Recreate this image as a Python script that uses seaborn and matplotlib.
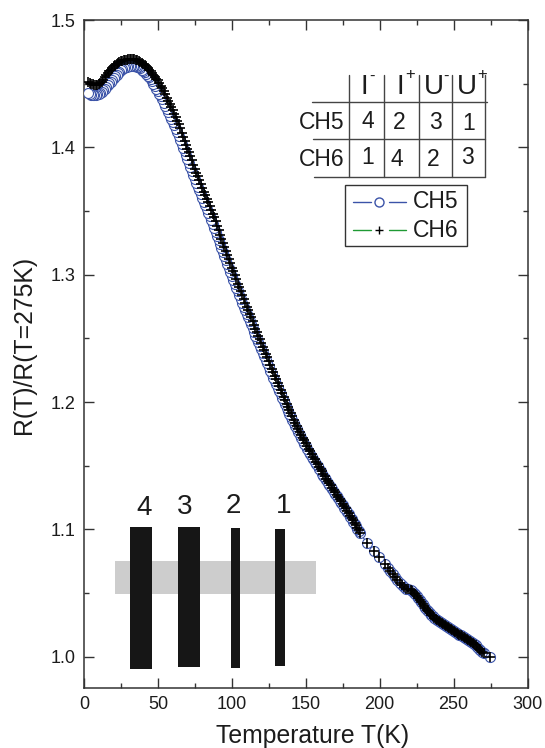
# plot.py
import matplotlib
matplotlib.use("Agg")
import matplotlib.pyplot as plt
from matplotlib.lines import Line2D
from matplotlib.patches import Rectangle
from matplotlib.ticker import MultipleLocator, FormatStrFormatter
import pandas as pd
import seaborn as sns

# Datos
temp = [3, 4, 5, 6, 7, 8, 9, 10, 11, 12, 13, 14, 15, 16, 17, 18, 19, 20, 21, 22,
        23, 24, 25, 26, 27, 28, 29, 30, 31, 32, 33, 34, 35, 36, 37, 38, 39, 40, 41, 42,
        43, 44, 45, 46, 47, 48, 49, 50, 51, 52, 53, 54, 55, 56, 57, 58, 59, 60, 61, 62,
        63, 64, 65, 66, 67, 68, 69, 70, 71, 72, 73, 74, 75, 76, 77, 78, 79, 80, 81, 82,
        83, 84, 85, 86, 87, 88, 89, 90, 91, 92, 93, 94, 95, 96, 97, 98, 99, 100, 101, 102,
        103, 104, 105, 106, 107, 108, 109, 110, 111, 112, 113, 114, 115, 116, 117, 118, 119, 120, 121, 122,
        123, 124, 125, 126, 127, 128,
        129, 130, 131, 132, 133, 134, 135, 136, 137, 138, 139, 140, 141, 142, 143, 144, 145, 146, 147, 148,
        149, 150, 151, 152, 153, 154, 155, 156, 157, 158, 159, 160, 161, 162, 163, 164, 165, 166, 167, 168,
        169, 170, 171, 172, 173, 174, 175, 176, 177, 178, 179, 180, 181, 182, 183, 184, 185, 186, 187,
        191.4, 195.9, 199.7, 203.4, 205.5, 207.2, 209, 210.6, 212, 213.5, 215, 216.5, 218, 219.5,
        221, 222, 223, 224, 225, 226, 227, 228, 229, 230, 231, 232, 233, 234, 235, 236, 237, 238, 239, 240,
        241, 242, 243, 244, 245, 246, 247, 248, 249, 250, 251, 252, 253, 254, 255, 256, 257, 258, 259, 260,
        261, 262, 263, 264, 265, 266, 267, 268, 269, 270.5, 274.5]

ch5 = [1.4425, 1.4418, 1.4413, 1.4410, 1.4410, 1.4412, 1.4415, 1.4420, 1.4427, 1.4435, 1.4447, 1.4460, 1.4474, 1.4488, 1.4502, 1.4515, 1.4530, 1.4545, 1.4558, 1.4570,
       1.4583, 1.4595, 1.4605, 1.4615, 1.4622, 1.4628, 1.4633, 1.4637, 1.4639, 1.4641, 1.4641, 1.4640, 1.4637, 1.4633, 1.4627, 1.4620, 1.4610, 1.4600, 1.4589, 1.4578,
       1.4564, 1.4550, 1.4534, 1.4518, 1.4500, 1.4482, 1.4462, 1.4442, 1.4421, 1.4400, 1.4376, 1.4352, 1.4327, 1.4302, 1.4276, 1.4250, 1.4224, 1.4198, 1.4172, 1.4145,
       1.4117, 1.4088, 1.4058, 1.4028, 1.3998, 1.3968, 1.3938, 1.3908, 1.3878, 1.3848, 1.3817, 1.3785, 1.3753, 1.3722, 1.3692, 1.3662, 1.3631, 1.3600, 1.3573, 1.3545,
       1.3517, 1.3488, 1.3459, 1.3430, 1.3400, 1.3370, 1.3338, 1.3305, 1.3273, 1.3240, 1.3207, 1.3175, 1.3143, 1.3112, 1.3081, 1.3050, 1.3019, 1.2988, 1.2958, 1.2928,
       1.2898, 1.2868, 1.2838, 1.2808, 1.2779, 1.2750, 1.2721, 1.2692, 1.2665, 1.2638, 1.2609, 1.2580, 1.2551, 1.2522, 1.2495, 1.2468, 1.2442, 1.2415, 1.2387, 1.2358,
       1.2331, 1.2303, 1.2275, 1.2246, 1.2219, 1.2192,
       1.2166, 1.2140, 1.2113, 1.2087, 1.2060, 1.2034, 1.2008, 1.1981, 1.1955, 1.1930, 1.1905, 1.1881, 1.1857, 1.1833, 1.1809, 1.1786, 1.1763, 1.1740, 1.1718, 1.1696,
       1.1674, 1.1653, 1.1632, 1.1611, 1.1591, 1.1571, 1.1551, 1.1532, 1.1513, 1.1494, 1.1475, 1.1456, 1.1438, 1.1420, 1.1402, 1.1384, 1.1366, 1.1348, 1.1331, 1.1313,
       1.1296, 1.1278, 1.1260, 1.1243, 1.1225, 1.1207, 1.1189, 1.1171, 1.1153, 1.1135, 1.1117, 1.1098, 1.1080, 1.1061, 1.1043, 1.1024, 1.1005, 1.0987, 1.0968,
       1.0890, 1.0830, 1.0780, 1.0730, 1.0700, 1.0675, 1.0650, 1.0625, 1.0605, 1.0580, 1.0560, 1.0545, 1.0535, 1.0530,
       1.0525, 1.0515, 1.0503, 1.0490, 1.0475, 1.0460, 1.0445, 1.0430, 1.0415, 1.0400, 1.0385, 1.0370, 1.0357, 1.0343, 1.0330, 1.0318, 1.0305, 1.0295, 1.0285, 1.0277,
       1.0269, 1.0261, 1.0253, 1.0245, 1.0237, 1.0230, 1.0223, 1.0216, 1.0209, 1.0202, 1.0195, 1.0188, 1.0181, 1.0174, 1.0167, 1.0160, 1.0153, 1.0146, 1.0139, 1.0131,
       1.0123, 1.0115, 1.0107, 1.0098, 1.0088, 1.0076, 1.0064, 1.0052, 1.0035, 1.0026, 1.0000]

ch6 = [1.4510, 1.4505, 1.4500, 1.4495, 1.4492, 1.4490, 1.4491, 1.4495, 1.4504, 1.4515, 1.4532, 1.4550, 1.4568, 1.4585, 1.4598, 1.4610, 1.4623, 1.4635, 1.4646, 1.4655,
       1.4663, 1.4670, 1.4675, 1.4680, 1.4683, 1.4685, 1.4688, 1.4690, 1.4691, 1.4692, 1.4691, 1.4690, 1.4686, 1.4682, 1.4677, 1.4672, 1.4664, 1.4655, 1.4645, 1.4635,
       1.4623, 1.4610, 1.4598, 1.4585, 1.4570, 1.4555, 1.4540, 1.4525, 1.4506, 1.4485, 1.4463, 1.4440, 1.4415, 1.4390, 1.4365, 1.4340, 1.4315, 1.4290, 1.4263, 1.4235,
       1.4208, 1.4180, 1.4148, 1.4115, 1.4083, 1.4050, 1.4020, 1.3990, 1.3960, 1.3930, 1.3898, 1.3865, 1.3833, 1.3800, 1.3772, 1.3745, 1.3713, 1.3680, 1.3653, 1.3625,
       1.3598, 1.3570, 1.3540, 1.3510, 1.3480, 1.3450, 1.3418, 1.3385, 1.3350, 1.3315, 1.3283, 1.3250, 1.3218, 1.3185, 1.3153, 1.3120, 1.3088, 1.3055, 1.3025, 1.2995,
       1.2963, 1.2930, 1.2900, 1.2870, 1.2840, 1.2810, 1.2780, 1.2750, 1.2723, 1.2695, 1.2665, 1.2635, 1.2605, 1.2575, 1.2548, 1.2520, 1.2493, 1.2465, 1.2435, 1.2405,
       1.2378, 1.2350, 1.2320, 1.2290, 1.2263, 1.2235,
       1.2207, 1.2180, 1.2152, 1.2125, 1.2097, 1.2070, 1.2043, 1.2015, 1.1988, 1.1962, 1.1937, 1.1912, 1.1887, 1.1862, 1.1838, 1.1814, 1.1790, 1.1767, 1.1744, 1.1721,
       1.1699, 1.1677, 1.1655, 1.1634, 1.1613, 1.1592, 1.1572, 1.1552, 1.1532, 1.1512, 1.1493, 1.1474, 1.1455, 1.1436, 1.1418, 1.1399, 1.1381, 1.1363, 1.1345, 1.1327,
       1.1309, 1.1291, 1.1273, 1.1255, 1.1237, 1.1219, 1.1201, 1.1183, 1.1164, 1.1146, 1.1127, 1.1108, 1.1089, 1.1070, 1.1051, 1.1032, 1.1013, 1.0994, 1.0975,
       1.0890, 1.0830, 1.0780, 1.0730, 1.0700, 1.0675, 1.0650, 1.0625, 1.0605, 1.0580, 1.0560, 1.0545, 1.0535, 1.0530,
       1.0525, 1.0515, 1.0503, 1.0490, 1.0475, 1.0460, 1.0445, 1.0430, 1.0415, 1.0400, 1.0385, 1.0370, 1.0357, 1.0343, 1.0330, 1.0318, 1.0305, 1.0295, 1.0285, 1.0277,
       1.0269, 1.0261, 1.0253, 1.0245, 1.0237, 1.0230, 1.0223, 1.0216, 1.0209, 1.0202, 1.0195, 1.0188, 1.0181, 1.0174, 1.0167, 1.0160, 1.0153, 1.0146, 1.0139, 1.0131,
       1.0123, 1.0115, 1.0107, 1.0098, 1.0088, 1.0076, 1.0064, 1.0052, 1.0035, 1.0026, 1.0000]

# Esquema de contactos (T, R)
contact_labels = ["4", "3", "2", "1"]
contact_left = [31.3, 63.9, 99.3, 129.0]
contact_right = [45.8, 78.6, 105.8, 136.2]
contact_bottom = [0.9904, 0.9915, 0.9912, 0.9925]
contact_top = [1.1020, 1.1015, 1.1010, 1.0999]

# Tabla de canales
table_header = ["I", "I", "U", "U"]
table_signs = ["-", "+", "-", "+"]
table_rows = ["CH5", "CH6"]
table_values = [["4", "2", "3", "1"], ["1", "4", "2", "3"]]

BLUE = "#3b53a8"
GREEN = "#1f9a34"
INK = "#1c1c1c"
W, H = 545, 748


def fx(x):
    return x / W


def fy(y):
    return 1 - y / H


def linea(fig, x0, y0, x1, y1, color="#444444", lw=1.0):
    fig.add_artist(Line2D([fx(x0), fx(x1)], [fy(y0), fy(y1)], color=color, lw=lw))


def texto(fig, x, y, s, size=16.5):
    fig.text(fx(x), fy(y), s, fontsize=size, color=INK, ha="center", va="center")


sns.set_style("ticks")
plt.rcParams["font.family"] = ["Liberation Sans", "DejaVu Sans"]

fig = plt.figure(figsize=(W / 100, H / 100), dpi=100)
ax = fig.add_axes([fx(84), fy(688), fx(527.5 - 84), (688 - 20) / H])

df = pd.DataFrame({"T": temp[::-1], "CH5": ch5[::-1], "CH6": ch6[::-1]})

sns.lineplot(data=df, x="T", y="CH5", sort=False, errorbar=None, ax=ax, color=BLUE, lw=0.8,
             marker="o", markersize=7.2, markerfacecolor="white", markeredgecolor=BLUE,
             markeredgewidth=0.8, zorder=3)
sns.scatterplot(data=df, x="T", y="CH6", ax=ax, marker="+", s=56, color="black", linewidth=1.2, zorder=4)

# Esquema
ax.add_patch(Rectangle((21, 1.049), 136, 0.026, facecolor="#cdcdcd", edgecolor="none", zorder=1))
for lab, l, r, b, t in zip(contact_labels, contact_left, contact_right, contact_bottom, contact_top):
    ax.bar((l + r) / 2, t - b, width=r - l, bottom=b, color="#161616", linewidth=0, zorder=2)
for lab, x, y in zip(contact_labels, [144, 184.3, 233.3, 284], [508, 507.3, 506, 506]):
    texto(fig, x, y, lab, size=20)

ax.set_xlim(0, 300)
ax.set_ylim(0.9754, 1.5)
ax.xaxis.set_major_locator(MultipleLocator(50))
ax.xaxis.set_minor_locator(MultipleLocator(25))
ax.yaxis.set_major_locator(MultipleLocator(0.1))
ax.yaxis.set_minor_locator(MultipleLocator(0.05))
ax.yaxis.set_major_formatter(FormatStrFormatter("%.1f"))
ax.tick_params(which="major", direction="in", length=7, width=1, top=True, right=True,
               labelsize=13, color="#333333", labelcolor=INK, pad=6)
ax.tick_params(which="minor", direction="in", length=3.5, width=1, top=True, right=True, color="#333333")
for s in ax.spines.values():
    s.set_visible(True)
    s.set_linewidth(1.1)
    s.set_color("#333333")
ax.set_xlabel("")
ax.set_ylabel("")
texto(fig, 313, 736.5, "Temperature T(K)", size=17.8)
fig.text(fx(24), fy(345), "R(T)/R(T=275K)", fontsize=17.8, color=INK, rotation=90, ha="center", va="center")

# Tabla
for x in [349.3, 384.3, 418.7, 452.3, 485]:
    linea(fig, x, 75, x, 176.7)
linea(fig, 311.7, 102.3, 486.7, 102.3)
linea(fig, 313, 139.3, 485, 139.3)
linea(fig, 314, 176.7, 485, 176.7)
for s, x in zip(table_header, [364, 400, 434, 467]):
    texto(fig, x, 87, s, size=20)
for s, x, y in zip(table_signs, [371.5, 410.5, 446, 482.5], [76, 75, 76, 74]):
    texto(fig, x, y, s, size=12)
for s, y in zip(table_rows, [122.3, 159.5]):
    texto(fig, 321.7, y, s)
cell_x = [[367.7, 399.3, 435.7, 469], [367.3, 397.3, 433.3, 467.3]]
cell_y = [[121.7, 122.3, 122.3, 124], [157.3, 159.3, 160, 157.3]]
for i in range(2):
    for j in range(4):
        texto(fig, cell_x[i][j], cell_y[i][j], table_values[i][j])

# Leyenda
fig.add_artist(Rectangle((fx(345), fy(245.7)), (467 - 345) / W, (245.7 - 185) / H, fill=False,
                         edgecolor="#333333", lw=1.0, transform=fig.transFigure))
for y, col in [(201.7, BLUE), (230.3, GREEN)]:
    linea(fig, 353.3, y, 371, y, color=col)
    linea(fig, 389, y, 406, y, color=col)
fig.add_artist(Line2D([fx(379.3)], [fy(201.7)], marker="o", ms=6.5, mfc="white", mec=BLUE, mew=1.0))
fig.add_artist(Line2D([fx(379.3)], [fy(230.3)], marker="+", ms=6, mec="black", mew=1.0))
fig.text(fx(413.3), fy(201.7), "CH5", fontsize=16.5, color=INK, ha="left", va="center")
fig.text(fx(413.3), fy(230.3), "CH6", fontsize=16.5, color=INK, ha="left", va="center")

fig.savefig("out.png", dpi=100)
